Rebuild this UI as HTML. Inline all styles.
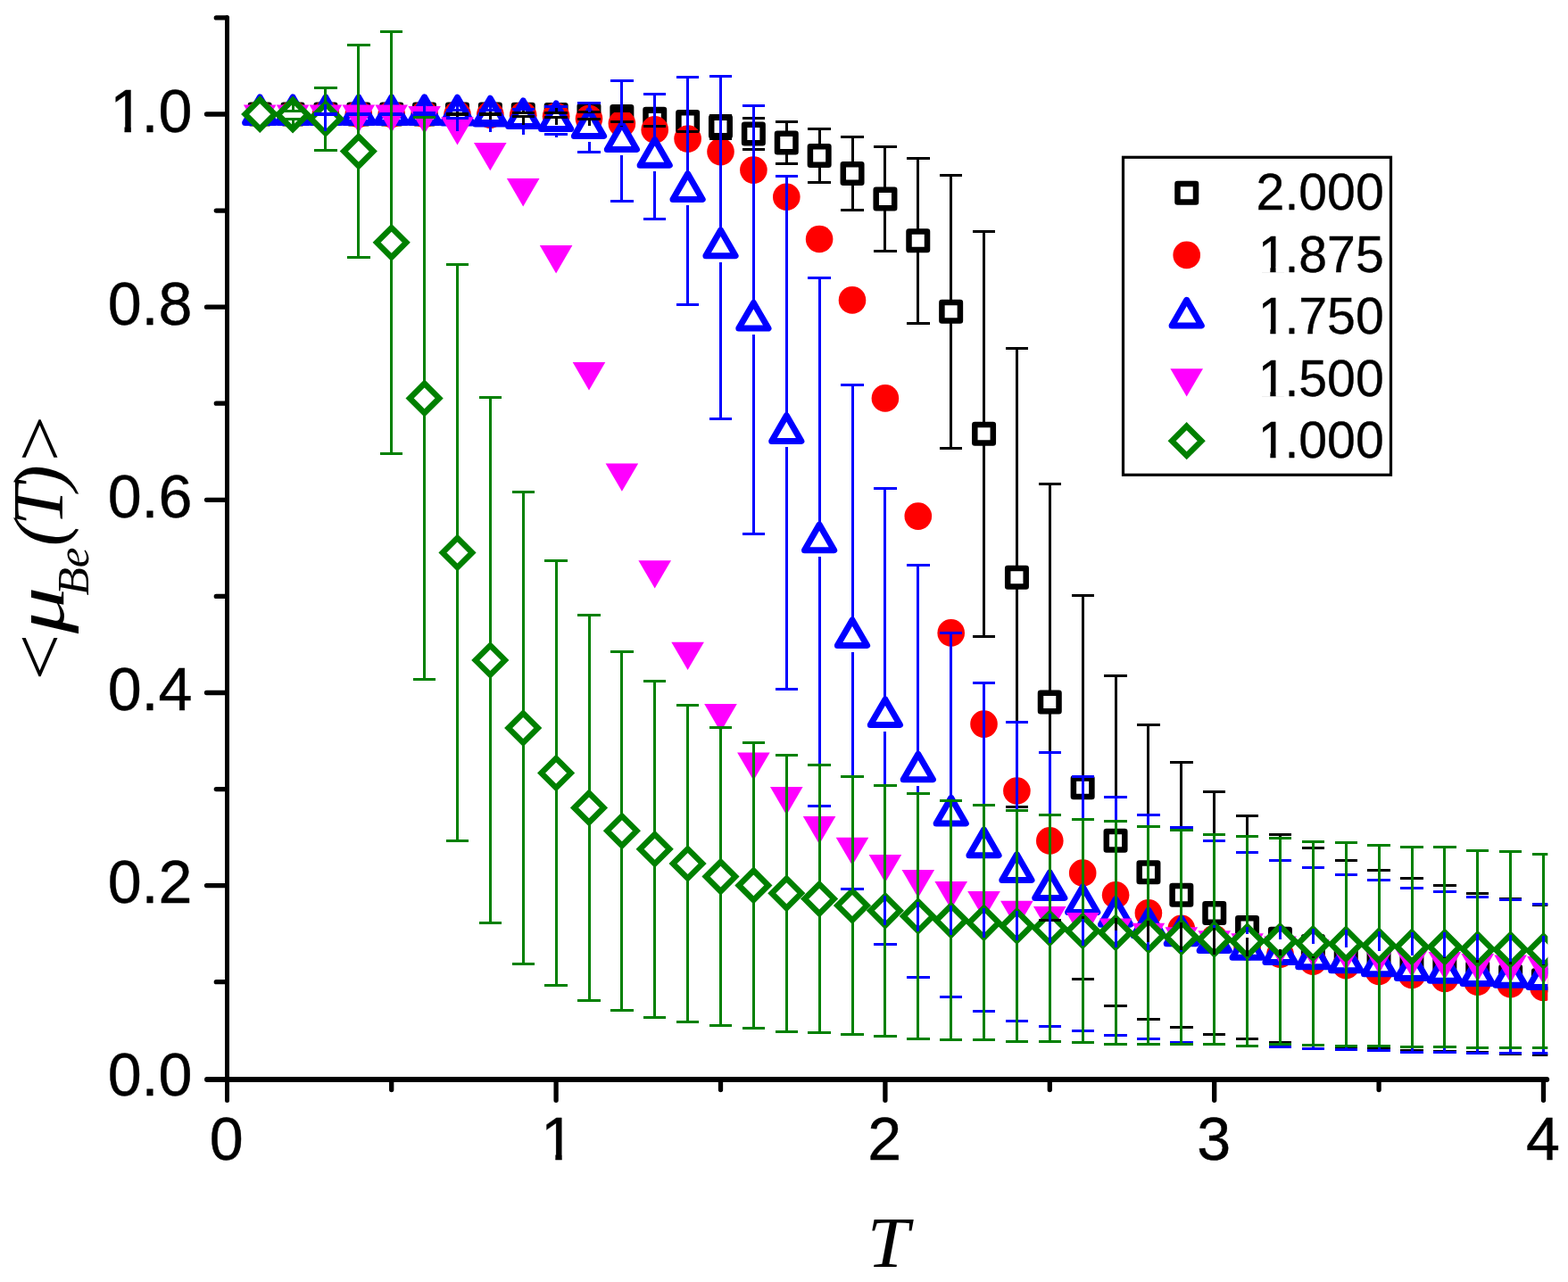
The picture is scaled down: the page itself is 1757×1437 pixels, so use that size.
<!DOCTYPE html>
<html lang="en"><head><meta charset="utf-8"><title>&lt;&#956;Be(T)&gt; versus T</title>
<style>html,body{margin:0;padding:0;background:#fff}body{width:1757px;height:1437px;overflow:hidden}svg{display:block}.tk,.lg{font-family:"Liberation Sans",Arial,Helvetica,sans-serif;fill:#000;stroke:#000;stroke-width:.6px;vector-effect:non-scaling-stroke}.ti{font-family:"Liberation Serif","Times New Roman",Times,serif;font-style:italic;fill:#000}</style></head><body>
<svg width="1757" height="1437" viewBox="0 0 1757 1437">
<rect width="1757" height="1437" fill="#fff"/>
<defs><clipPath id="c1"><path clip-rule="evenodd" d="M-20-100H500V30H-20ZM5-8.6H27.6V2H5ZM38.3-8.6H58V2H38.3Z"/></clipPath><clipPath id="cp"><rect x="250" y="14" width="1484.3" height="1196"/></clipPath></defs>
<g clip-path="url(#cp)">
<g fill="#fff" stroke="#000" stroke-width="6.5" stroke-linejoin="round"><rect x="280.9" y="117.8" width="20.5" height="20.5"/><rect x="317.8" y="117.8" width="20.5" height="20.5"/><rect x="354.7" y="117.8" width="20.5" height="20.5"/><rect x="391.6" y="117.8" width="20.5" height="20.5"/><rect x="428.5" y="117.8" width="20.5" height="20.5"/><rect x="465.3" y="117.8" width="20.5" height="20.5"/><rect x="502.2" y="117.8" width="20.5" height="20.5"/><rect x="539.1" y="117.8" width="20.5" height="20.5"/><rect x="576" y="118.1" width="20.5" height="20.5"/><rect x="612.9" y="118.3" width="20.5" height="20.5"/><rect x="649.7" y="118.9" width="20.5" height="20.5"/><rect x="686.6" y="120.2" width="20.5" height="20.5"/><rect x="723.5" y="123.1" width="20.5" height="20.5"/><rect x="760.4" y="126.2" width="20.5" height="20.5"/><rect x="797.2" y="131.8" width="20.5" height="20.5"/><rect x="834.1" y="139.8" width="20.5" height="20.5"/><rect x="871" y="149.8" width="20.5" height="20.5"/><rect x="907.9" y="164.2" width="20.5" height="20.5"/><rect x="944.8" y="184.2" width="20.5" height="20.5"/><rect x="981.7" y="212.8" width="20.5" height="20.5"/><rect x="1018.5" y="259.6" width="20.5" height="20.5"/><rect x="1055.4" y="338.9" width="20.5" height="20.5"/><rect x="1092.3" y="476.1" width="20.5" height="20.5"/><rect x="1129.2" y="637.1" width="20.5" height="20.5"/><rect x="1166" y="776.8" width="20.5" height="20.5"/><rect x="1202.9" y="872.4" width="20.5" height="20.5"/><rect x="1239.8" y="932.1" width="20.5" height="20.5"/><rect x="1276.7" y="967.4" width="20.5" height="20.5"/><rect x="1313.6" y="993" width="20.5" height="20.5"/><rect x="1350.5" y="1013.2" width="20.5" height="20.5"/><rect x="1387.3" y="1029.2" width="20.5" height="20.5"/><rect x="1424.2" y="1042" width="20.5" height="20.5"/><rect x="1461.1" y="1050.3" width="20.5" height="20.5"/><rect x="1498" y="1059" width="20.5" height="20.5"/><rect x="1534.8" y="1065.3" width="20.5" height="20.5"/><rect x="1571.7" y="1070.8" width="20.5" height="20.5"/><rect x="1608.6" y="1075.2" width="20.5" height="20.5"/><rect x="1645.5" y="1080.2" width="20.5" height="20.5"/><rect x="1682.4" y="1084.2" width="20.5" height="20.5"/><rect x="1719.2" y="1088.5" width="20.5" height="20.5"/></g>
<g fill="#f00"><circle cx="291.2" cy="128" r="15.3"/><circle cx="328.1" cy="128" r="15.3"/><circle cx="364.9" cy="128" r="15.3"/><circle cx="401.8" cy="128" r="15.3"/><circle cx="438.7" cy="128" r="15.3"/><circle cx="475.6" cy="128" r="15.3"/><circle cx="512.5" cy="128.2" r="15.3"/><circle cx="549.3" cy="128.6" r="15.3"/><circle cx="586.2" cy="129.3" r="15.3"/><circle cx="623.1" cy="130.3" r="15.3"/><circle cx="660" cy="133" r="15.3"/><circle cx="696.9" cy="138.5" r="15.3"/><circle cx="733.7" cy="145.4" r="15.3"/><circle cx="770.6" cy="155.6" r="15.3"/><circle cx="807.5" cy="170.1" r="15.3"/><circle cx="844.4" cy="190.6" r="15.3"/><circle cx="881.3" cy="220.8" r="15.3"/><circle cx="918.1" cy="268" r="15.3"/><circle cx="955" cy="336.4" r="15.3"/><circle cx="991.9" cy="446.4" r="15.3"/><circle cx="1028.8" cy="578.6" r="15.3"/><circle cx="1065.7" cy="709.4" r="15.3"/><circle cx="1102.5" cy="811.6" r="15.3"/><circle cx="1139.4" cy="886.5" r="15.3"/><circle cx="1176.3" cy="942.4" r="15.3"/><circle cx="1213.2" cy="978.5" r="15.3"/><circle cx="1250.1" cy="1003.2" r="15.3"/><circle cx="1286.9" cy="1023.4" r="15.3"/><circle cx="1323.8" cy="1040.9" r="15.3"/><circle cx="1360.7" cy="1052" r="15.3"/><circle cx="1397.6" cy="1061.5" r="15.3"/><circle cx="1434.5" cy="1069.6" r="15.3"/><circle cx="1471.3" cy="1077.8" r="15.3"/><circle cx="1508.2" cy="1082.2" r="15.3"/><circle cx="1545.1" cy="1089" r="15.3"/><circle cx="1582" cy="1092.9" r="15.3"/><circle cx="1618.9" cy="1097" r="15.3"/><circle cx="1655.7" cy="1100.8" r="15.3"/><circle cx="1692.6" cy="1103.3" r="15.3"/><circle cx="1729.5" cy="1107" r="15.3"/></g>
<g fill="#fff" stroke="#00f" stroke-width="7" stroke-linejoin="round"><path d="M291.2 108.9L307.8 137.6H274.6Z"/><path d="M328.1 108.9L344.7 137.6H311.5Z"/><path d="M364.9 108.9L381.5 137.6H348.3Z"/><path d="M401.8 108.9L418.4 137.6H385.2Z"/><path d="M438.7 108.9L455.3 137.6H422.1Z"/><path d="M475.6 108.8L492.2 137.5H459Z"/><path d="M512.5 109.2L529.1 137.9H495.9Z"/><path d="M549.3 110.2L565.9 138.9H532.7Z"/><path d="M586.2 112.9L602.8 141.6H569.6Z"/><path d="M623.1 115.9L639.7 144.6H606.5Z"/><path d="M660 123.8L676.6 152.5H643.4Z"/><path d="M696.9 138.8L713.5 167.5H680.3Z"/><path d="M733.7 156.5L750.3 185.2H717.1Z"/><path d="M770.6 194.7L787.2 223.4H754Z"/><path d="M807.5 258.1L824.1 286.8H790.9Z"/><path d="M844.4 339.4L861 368.1H827.8Z"/><path d="M881.3 465.7L897.9 494.4H864.7Z"/><path d="M918.1 588.1L934.7 616.8H901.5Z"/><path d="M955 694.9L971.6 723.5H938.4Z"/><path d="M991.9 783.9L1008.5 812.5H975.3Z"/><path d="M1028.8 845.2L1045.4 873.8H1012.2Z"/><path d="M1065.7 894.3L1082.3 922.9H1049.1Z"/><path d="M1102.5 930.1L1119.1 958.8H1085.9Z"/><path d="M1139.4 957.8L1156 986.4H1122.8Z"/><path d="M1176.3 977.9L1192.9 1006.5H1159.7Z"/><path d="M1213.2 994L1229.8 1022.6H1196.6Z"/><path d="M1250.1 1007.7L1266.7 1036.3H1233.5Z"/><path d="M1286.9 1020.1L1303.5 1048.8H1270.3Z"/><path d="M1323.8 1029.1L1340.4 1057.8H1307.2Z"/><path d="M1360.7 1036.9L1377.3 1065.5H1344.1Z"/><path d="M1397.6 1044.7L1414.2 1073.3H1381Z"/><path d="M1434.5 1050L1451.1 1078.6H1417.9Z"/><path d="M1471.3 1055.1L1487.9 1083.8H1454.7Z"/><path d="M1508.2 1059.2L1524.8 1087.8H1491.6Z"/><path d="M1545.1 1063.1L1561.7 1091.8H1528.5Z"/><path d="M1582 1067.9L1598.6 1096.5H1565.4Z"/><path d="M1618.9 1070.6L1635.5 1099.2H1602.3Z"/><path d="M1655.7 1073.8L1672.3 1102.5H1639.1Z"/><path d="M1692.6 1075.7L1709.2 1104.3H1676Z"/><path d="M1729.5 1077.9L1746.1 1106.5H1712.9Z"/></g>
<g fill="#f0f"><path d="M272.9 117.6H309.5L291.2 148.9Z"/><path d="M309.8 117.6H346.4L328.1 148.9Z"/><path d="M346.6 117.6H383.2L364.9 148.9Z"/><path d="M383.5 117.6H420.1L401.8 148.9Z"/><path d="M420.4 117.6H457L438.7 148.9Z"/><path d="M457.3 118.9H493.9L475.6 150.2Z"/><path d="M494.2 131.2H530.8L512.5 162.5Z"/><path d="M531 160H567.6L549.3 191.3Z"/><path d="M567.9 200.1H604.5L586.2 231.4Z"/><path d="M604.8 275.1H641.4L623.1 306.4Z"/><path d="M641.7 406.1H678.3L660 437.4Z"/><path d="M678.6 519.4H715.2L696.9 550.7Z"/><path d="M715.4 628.2H752L733.7 659.5Z"/><path d="M752.3 719.7H788.9L770.6 751Z"/><path d="M789.2 789.1H825.8L807.5 820.4Z"/><path d="M826.1 843.4H862.7L844.4 874.7Z"/><path d="M863 882.1H899.6L881.3 913.4Z"/><path d="M899.8 915H936.4L918.1 946.3Z"/><path d="M936.7 938.8H973.3L955 970.1Z"/><path d="M973.6 958H1010.2L991.9 989.3Z"/><path d="M1010.5 975H1047.1L1028.8 1006.3Z"/><path d="M1047.4 987.9H1084L1065.7 1019.2Z"/><path d="M1084.2 998.9H1120.8L1102.5 1030.2Z"/><path d="M1121.1 1009.8H1157.7L1139.4 1041.1Z"/><path d="M1158 1016.1H1194.6L1176.3 1047.4Z"/><path d="M1194.9 1023.1H1231.5L1213.2 1054.4Z"/><path d="M1231.8 1029.6H1268.4L1250.1 1060.9Z"/><path d="M1268.6 1034.8H1305.2L1286.9 1066.1Z"/><path d="M1305.5 1039.3H1342.1L1323.8 1070.6Z"/><path d="M1342.4 1043.3H1379L1360.7 1074.6Z"/><path d="M1379.3 1046.3H1415.9L1397.6 1077.6Z"/><path d="M1416.2 1049.5H1452.8L1434.5 1080.8Z"/><path d="M1453 1053H1489.6L1471.3 1084.3Z"/><path d="M1489.9 1056.6H1526.5L1508.2 1087.9Z"/><path d="M1526.8 1060.1H1563.4L1545.1 1091.4Z"/><path d="M1563.7 1063.9H1600.3L1582 1095.2Z"/><path d="M1600.6 1066.9H1637.2L1618.9 1098.2Z"/><path d="M1637.4 1069.1H1674L1655.7 1100.4Z"/><path d="M1674.3 1070.6H1710.9L1692.6 1101.9Z"/><path d="M1711.2 1072.1H1747.8L1729.5 1103.4Z"/></g>
<g fill="#fff" stroke="#008000" stroke-width="6.5" stroke-linejoin="miter"><path d="M291.2 111.5L307.7 128L291.2 144.5L274.7 128Z"/><path d="M328.1 112L344.6 128.5L328.1 145L311.6 128.5Z"/><path d="M364.9 116.5L381.4 133L364.9 149.5L348.4 133Z"/><path d="M401.8 153.1L418.3 169.6L401.8 186.1L385.3 169.6Z"/><path d="M438.7 255.3L455.2 271.8L438.7 288.3L422.2 271.8Z"/><path d="M475.6 429.9L492.1 446.4L475.6 462.9L459.1 446.4Z"/><path d="M512.5 603L529 619.5L512.5 636L496 619.5Z"/><path d="M549.3 723.5L565.8 740L549.3 756.5L532.8 740Z"/><path d="M586.2 799.5L602.7 816L586.2 832.5L569.7 816Z"/><path d="M623.1 850L639.6 866.5L623.1 883L606.6 866.5Z"/><path d="M660 888.9L676.5 905.4L660 921.9L643.5 905.4Z"/><path d="M696.9 914.8L713.4 931.3L696.9 947.8L680.4 931.3Z"/><path d="M733.7 935.2L750.2 951.7L733.7 968.2L717.2 951.7Z"/><path d="M770.6 951.5L787.1 968L770.6 984.5L754.1 968Z"/><path d="M807.5 966.1L824 982.6L807.5 999.1L791 982.6Z"/><path d="M844.4 975.9L860.9 992.4L844.4 1008.9L827.9 992.4Z"/><path d="M881.3 984.8L897.8 1001.3L881.3 1017.8L864.8 1001.3Z"/><path d="M918.1 991.1L934.6 1007.6L918.1 1024.1L901.6 1007.6Z"/><path d="M955 998.5L971.5 1015L955 1031.5L938.5 1015Z"/><path d="M991.9 1004.3L1008.4 1020.8L991.9 1037.3L975.4 1020.8Z"/><path d="M1028.8 1010.5L1045.3 1027L1028.8 1043.5L1012.3 1027Z"/><path d="M1065.7 1015.1L1082.2 1031.6L1065.7 1048.1L1049.2 1031.6Z"/><path d="M1102.5 1017.8L1119 1034.3L1102.5 1050.8L1086 1034.3Z"/><path d="M1139.4 1021.4L1155.9 1037.9L1139.4 1054.4L1122.9 1037.9Z"/><path d="M1176.3 1024L1192.8 1040.5L1176.3 1057L1159.8 1040.5Z"/><path d="M1213.2 1027L1229.7 1043.5L1213.2 1060L1196.7 1043.5Z"/><path d="M1250.1 1028.9L1266.6 1045.4L1250.1 1061.9L1233.6 1045.4Z"/><path d="M1286.9 1031.8L1303.4 1048.3L1286.9 1064.8L1270.4 1048.3Z"/><path d="M1323.8 1034L1340.3 1050.5L1323.8 1067L1307.3 1050.5Z"/><path d="M1360.7 1036.5L1377.2 1053L1360.7 1069.5L1344.2 1053Z"/><path d="M1397.6 1038.5L1414.1 1055L1397.6 1071.5L1381.1 1055Z"/><path d="M1434.5 1038.2L1451 1054.7L1434.5 1071.2L1418 1054.7Z"/><path d="M1471.3 1041L1487.8 1057.5L1471.3 1074L1454.8 1057.5Z"/><path d="M1508.2 1041.8L1524.7 1058.3L1508.2 1074.8L1491.7 1058.3Z"/><path d="M1545.1 1043.6L1561.6 1060.1L1545.1 1076.6L1528.6 1060.1Z"/><path d="M1582 1044.9L1598.5 1061.4L1582 1077.9L1565.5 1061.4Z"/><path d="M1618.9 1045.1L1635.4 1061.6L1618.9 1078.1L1602.4 1061.6Z"/><path d="M1655.7 1047.4L1672.2 1063.9L1655.7 1080.4L1639.2 1063.9Z"/><path d="M1692.6 1047.9L1709.1 1064.4L1692.6 1080.9L1676.1 1064.4Z"/><path d="M1729.5 1049.3L1746 1065.8L1729.5 1082.3L1713 1065.8Z"/></g>
<g fill="none" stroke-width="3" shape-rendering="crispEdges">
<path stroke="#000" d="M499.8 127.8H525.2M499.8 128.2H525.2M512.5 127.8V116.5M512.5 128.2V139.5M536.6 127.7H562M536.6 128.5H562M549.3 127.7V116.6M549.3 128.5V139.6M573.5 126.2H598.9M573.5 130.4H598.9M586.2 126.2V116.8M586.2 130.4V139.8M610.4 126.1H635.8M610.4 131.1H635.8M623.1 126.1V117.1M623.1 131.1V140.1M647.3 125.2H672.7M647.3 133.2H672.7M660 125.2V117.7M660 133.2V140.7M684.2 124.8H709.6M684.2 136H709.6M696.9 124.8V118.9M696.9 136V141.9M721 125.5H746.4M721 141.1H746.4M733.7 125.5V121.8M733.7 141.1V144.8M757.9 125.4H783.3M757.9 147.4H783.3M770.6 125.4V124.9M770.6 147.4V147.9M794.8 129H820.2M794.8 155H820.2M807.5 129V130.5M807.5 155V153.5M831.7 132.6H857.1M831.7 167.6H857.1M844.4 132.6V138.6M844.4 167.6V161.6M868.6 136.5H894M868.6 183.5H894M881.3 136.5V148.5M881.3 183.5V171.5M905.4 144.4H930.8M905.4 204.6H930.8M918.1 144.4V163M918.1 204.6V186M942.3 153.4H967.7M942.3 235.4H967.7M955 153.4V182.9M955 235.4V205.9M979.2 164.3H1004.6M979.2 281.7H1004.6M991.9 164.3V211.5M991.9 281.7V234.5M1016.1 177.3H1041.5M1016.1 362.5H1041.5M1028.8 177.3V258.4M1028.8 362.5V281.4M1053 196H1078.4M1053 502.4H1078.4M1065.7 196V337.7M1065.7 502.4V360.7M1089.8 259.2H1115.2M1089.8 713.4H1115.2M1102.5 259.2V474.8M1102.5 713.4V497.8M1126.7 390.4H1152.1M1126.7 904.4H1152.1M1139.4 390.4V635.9M1139.4 904.4V658.9M1163.6 542.3H1189M1163.6 1031.7H1189M1176.3 542.3V775.5M1176.3 1031.7V798.5M1200.5 667.3H1225.9M1200.5 1097.9H1225.9M1213.2 667.3V871.1M1213.2 1097.9V894.1M1237.4 757.4H1262.8M1237.4 1127.4H1262.8M1250.1 757.4V930.9M1250.1 1127.4V953.9M1274.2 812.6H1299.6M1274.2 1142.6H1299.6M1286.9 812.6V966.1M1286.9 1142.6V989.1M1311.1 854.6H1336.5M1311.1 1151.8H1336.5M1323.8 854.6V991.7M1323.8 1151.8V1014.7M1348 887.5H1373.4M1348 1159.5H1373.4M1360.7 887.5V1012M1360.7 1159.5V1035M1384.9 914.7H1410.3M1384.9 1164.1H1410.3M1397.6 914.7V1027.9M1397.6 1164.1V1050.9M1421.8 935.6H1447.2M1421.8 1168.8H1447.2M1434.5 935.6V1040.7M1434.5 1168.8V1063.7M1458.6 950.2H1484M1458.6 1171H1484M1471.3 950.2V1049.1M1471.3 1171V1072.1M1495.5 964.6H1520.9M1495.5 1173.8H1520.9M1508.2 964.6V1057.7M1508.2 1173.8V1080.7M1532.4 975.4H1557.8M1532.4 1175.8H1557.8M1545.1 975.4V1064.1M1545.1 1175.8V1087.1M1569.3 984.5H1594.7M1569.3 1177.7H1594.7M1582 984.5V1069.6M1582 1177.7V1092.6M1606.2 992.2H1631.6M1606.2 1178.8H1631.6M1618.9 992.2V1074M1618.9 1178.8V1097M1643 1001.5H1668.4M1643 1179.5H1668.4M1655.7 1001.5V1079M1655.7 1179.5V1102M1679.9 1007.7H1705.3M1679.9 1181.1H1705.3M1692.6 1007.7V1082.9M1692.6 1181.1V1105.9M1716.8 1014.5H1742.2M1716.8 1182.9H1742.2M1729.5 1014.5V1087.2M1729.5 1182.9V1110.2"/>
<path stroke="#00f" d="M352.2 127.7H377.6M352.2 128.3H377.6M364.9 127.7V109M364.9 128.3V147M389.1 127.7H414.5M389.1 128.3H414.5M401.8 127.7V109M401.8 128.3V147M426 127.5H451.4M426 128.5H451.4M438.7 127.5V109M438.7 128.5V147M462.9 126.7H488.3M462.9 129.1H488.3M475.6 126.7V108.9M475.6 129.1V146.9M499.8 123.8H525.2M499.8 132.8H525.2M512.5 123.8V109.3M512.5 132.8V147.3M536.6 123.4H562M536.6 135.2H562M549.3 123.4V110.3M549.3 135.2V148.3M573.5 122H598.9M573.5 142H598.9M586.2 122V113M586.2 142V151M610.4 119.8H635.8M610.4 150.2H635.8M623.1 119.8V116M623.1 150.2V154M647.3 115.1H672.7M647.3 170.7H672.7M660 115.1V126.4M660 170.7V159.4M684.2 90.7H709.6M684.2 225.1H709.6M696.9 90.7V141.4M696.9 225.1V174.4M721 105.6H746.4M721 245.6H746.4M733.7 105.6V159.1M733.7 245.6V192.1M757.9 86.3H783.3M757.9 341.3H783.3M770.6 86.3V197.3M770.6 341.3V230.3M794.8 85.2H820.2M794.8 469.2H820.2M807.5 85.2V260.7M807.5 469.2V293.7M831.7 118.3H857.1M831.7 598.7H857.1M844.4 118.3V342M844.4 598.7V375M868.6 197.2H894M868.6 772.4H894M881.3 197.2V468.3M881.3 772.4V501.3M905.4 311.1H930.8M905.4 903.3H930.8M918.1 311.1V590.7M918.1 903.3V623.7M942.3 431.2H967.7M942.3 996.8H967.7M955 431.2V697.5M955 996.8V730.5M979.2 547.6H1004.6M979.2 1058.4H1004.6M991.9 547.6V786.5M991.9 1058.4V819.5M1016.1 633.5H1041.5M1016.1 1095.1H1041.5M1028.8 633.5V847.8M1028.8 1095.1V880.8M1053 709.4H1078.4M1053 1117.4H1078.4M1065.7 709.4V896.9M1065.7 1117.4V929.9M1089.8 765.3H1115.2M1089.8 1133.1H1115.2M1102.5 765.3V932.7M1102.5 1133.1V965.7M1126.7 809.6H1152.1M1126.7 1144.2H1152.1M1139.4 809.6V960.4M1139.4 1144.2V993.4M1163.6 843.4H1189M1163.6 1150.6H1189M1176.3 843.4V980.5M1176.3 1150.6V1013.5M1200.5 870.3H1225.9M1200.5 1155.9H1225.9M1213.2 870.3V996.6M1213.2 1155.9V1029.6M1237.4 893.2H1262.8M1237.4 1160.4H1262.8M1250.1 893.2V1010.3M1250.1 1160.4V1043.3M1274.2 913.8H1299.6M1274.2 1164.6H1299.6M1286.9 913.8V1022.7M1286.9 1164.6V1055.7M1311.1 927.8H1336.5M1311.1 1168.6H1336.5M1323.8 927.8V1031.7M1323.8 1168.6V1064.7M1348 942H1373.4M1348 1170H1373.4M1360.7 942V1039.5M1360.7 1170V1072.5M1384.9 955.6H1410.3M1384.9 1172H1410.3M1397.6 955.6V1047.3M1397.6 1172V1080.3M1421.8 964.7H1447.2M1421.8 1173.5H1447.2M1434.5 964.7V1052.6M1434.5 1173.5V1085.6M1458.6 972.6H1484M1458.6 1175.8H1484M1471.3 972.6V1057.7M1471.3 1175.8V1090.7M1495.5 980.3H1520.9M1495.5 1176.3H1520.9M1508.2 980.3V1061.8M1508.2 1176.3V1094.8M1532.4 986.7H1557.8M1532.4 1177.7H1557.8M1545.1 986.7V1065.7M1545.1 1177.7V1098.7M1569.3 995H1594.7M1569.3 1179H1594.7M1582 995V1070.5M1582 1179V1103.5M1606.2 999.7H1631.6M1606.2 1179.7H1631.6M1618.9 999.7V1073.2M1618.9 1179.7V1106.2M1643 1005.4H1668.4M1643 1180.4H1668.4M1655.7 1005.4V1076.4M1655.7 1180.4V1109.4M1679.9 1008.8H1705.3M1679.9 1180.8H1705.3M1692.6 1008.8V1078.3M1692.6 1180.8V1111.3M1716.8 1013.2H1742.2M1716.8 1180.8H1742.2M1729.5 1013.2V1080.5M1729.5 1180.8V1113.5"/>
<path stroke="#008000" d="M315.4 124H340.8M315.4 133H340.8M328.1 124V112M328.1 133V145M352.2 98H377.6M352.2 168H377.6M364.9 98V116.5M364.9 168V149.5M389.1 50.6H414.5M389.1 288.6H414.5M401.8 50.6V153.1M401.8 288.6V186.1M426 35.3H451.4M426 508.3H451.4M438.7 35.3V255.3M438.7 508.3V288.3M462.9 131.2H488.3M462.9 761.6H488.3M475.6 131.2V429.9M475.6 761.6V462.9M499.8 296.2H525.2M499.8 942.8H525.2M512.5 296.2V603M512.5 942.8V636M536.6 445.5H562M536.6 1034.5H562M549.3 445.5V723.5M549.3 1034.5V756.5M573.5 551.6H598.9M573.5 1080.4H598.9M586.2 551.6V799.5M586.2 1080.4V832.5M610.4 628.6H635.8M610.4 1104.4H635.8M623.1 628.6V850M623.1 1104.4V883M647.3 689.4H672.7M647.3 1121.4H672.7M660 689.4V888.9M660 1121.4V921.9M684.2 730.6H709.6M684.2 1132H709.6M696.9 730.6V914.8M696.9 1132V947.8M721 763H746.4M721 1140.4H746.4M733.7 763V935.2M733.7 1140.4V968.2M757.9 790.4H783.3M757.9 1145.6H783.3M770.6 790.4V951.5M770.6 1145.6V984.5M794.8 815.4H820.2M794.8 1149.8H820.2M807.5 815.4V966.1M807.5 1149.8V999.1M831.7 832.4H857.1M831.7 1152.4H857.1M844.4 832.4V975.9M844.4 1152.4V1008.9M868.6 846.3H894M868.6 1156.3H894M881.3 846.3V984.8M881.3 1156.3V1017.8M905.4 857.6H930.8M905.4 1157.6H930.8M918.1 857.6V991.1M918.1 1157.6V1024.1M942.3 870.5H967.7M942.3 1159.5H967.7M955 870.5V998.5M955 1159.5V1031.5M979.2 880.3H1004.6M979.2 1161.3H1004.6M991.9 880.3V1004.3M991.9 1161.3V1037.3M1016.1 889.6H1041.5M1016.1 1164.4H1041.5M1028.8 889.6V1010.5M1028.8 1164.4V1043.5M1053 897.6H1078.4M1053 1165.6H1078.4M1065.7 897.6V1015.1M1065.7 1165.6V1048.1M1089.8 902.8H1115.2M1089.8 1165.8H1115.2M1102.5 902.8V1017.8M1102.5 1165.8V1050.8M1126.7 908.4H1152.1M1126.7 1167.4H1152.1M1139.4 908.4V1021.4M1139.4 1167.4V1054.4M1163.6 913.6H1189M1163.6 1167.4H1189M1176.3 913.6V1024M1176.3 1167.4V1057M1200.5 918.4H1225.9M1200.5 1168.6H1225.9M1213.2 918.4V1027M1213.2 1168.6V1060M1237.4 920.5H1262.8M1237.4 1170.3H1262.8M1250.1 920.5V1028.9M1250.1 1170.3V1061.9M1274.2 926.3H1299.6M1274.2 1170.3H1299.6M1286.9 926.3V1031.8M1286.9 1170.3V1064.8M1311.1 930.6H1336.5M1311.1 1170.4H1336.5M1323.8 930.6V1034M1323.8 1170.4V1067M1348 935.5H1373.4M1348 1170.5H1373.4M1360.7 935.5V1036.5M1360.7 1170.5V1069.5M1384.9 937.5H1410.3M1384.9 1172.5H1410.3M1397.6 937.5V1038.5M1397.6 1172.5V1071.5M1421.8 939.4H1447.2M1421.8 1170H1447.2M1434.5 939.4V1038.2M1434.5 1170V1071.2M1458.6 943.5H1484M1458.6 1171.5H1484M1471.3 943.5V1041M1471.3 1171.5V1074M1495.5 944.3H1520.9M1495.5 1172.3H1520.9M1508.2 944.3V1041.8M1508.2 1172.3V1074.8M1532.4 947.3H1557.8M1532.4 1172.9H1557.8M1545.1 947.3V1043.6M1545.1 1172.9V1076.6M1569.3 949.4H1594.7M1569.3 1173.4H1594.7M1582 949.4V1044.9M1582 1173.4V1077.9M1606.2 949.4H1631.6M1606.2 1173.8H1631.6M1618.9 949.4V1045.1M1618.9 1173.8V1078.1M1643 953.6H1668.4M1643 1174.2H1668.4M1655.7 953.6V1047.4M1655.7 1174.2V1080.4M1679.9 954.6H1705.3M1679.9 1174.2H1705.3M1692.6 954.6V1047.9M1692.6 1174.2V1080.9M1716.8 957.4H1742.2M1716.8 1174.2H1742.2M1729.5 957.4V1049.3M1729.5 1174.2V1082.3"/>
</g></g>
<g stroke="#000" fill="none" stroke-linecap="butt">
<path stroke-width="5" stroke-linecap="round" d="M254.5 19.5V1233.4"/>
<path stroke-width="6" stroke-linecap="round" d="M232 1210H1733.2"/>
<path stroke-width="5.3" stroke-linecap="round" d="M231.5 128H253M231.5 344.2H253M231.5 560.3H253M231.5 776.5H253M231.5 992.6H253M242.3 19.9H253M242.3 236.1H253M242.3 452.2H253M242.3 668.4H253M242.3 884.6H253M242.3 1100.7H253M623.1 1212V1233.3M991.9 1212V1233.3M1360.7 1212V1233.3M1729.5 1212V1233.3M438.7 1212V1221.6M807.5 1212V1221.6M1176.3 1212V1221.6M1545.1 1212V1221.6"/>
</g>
<g class="tk">
<text transform="translate(120.70 147.60) scale(0.682 0.692)" font-size="100" clip-path="url(#c1)"><tspan x="3.6">1</tspan><tspan x="55.6">.0</tspan></text>
<text transform="translate(120.70 363.76) scale(0.682 0.692)" font-size="100" text-anchor="start">0.8</text>
<text transform="translate(120.70 579.92) scale(0.682 0.692)" font-size="100" text-anchor="start">0.6</text>
<text transform="translate(120.70 796.08) scale(0.682 0.692)" font-size="100" text-anchor="start">0.4</text>
<text transform="translate(120.70 1012.24) scale(0.682 0.692)" font-size="100" text-anchor="start">0.2</text>
<text transform="translate(120.70 1228.40) scale(0.682 0.692)" font-size="100" text-anchor="start">0.0</text>
<text transform="translate(234.74 1300.00) scale(0.682 0.692)" font-size="100" text-anchor="start">0</text>
<text transform="translate(603.54 1300.00) scale(0.682 0.692)" font-size="100" clip-path="url(#c1)"><tspan x="3.6">1</tspan></text>
<text transform="translate(972.34 1300.00) scale(0.682 0.692)" font-size="100" text-anchor="start">2</text>
<text transform="translate(1341.14 1300.00) scale(0.682 0.692)" font-size="100" text-anchor="start">3</text>
<text transform="translate(1709.94 1300.00) scale(0.682 0.692)" font-size="100" text-anchor="start">4</text>
</g>
<g class="ti">
<text transform="translate(971.70 1420.00) scale(0.846 0.803)" font-size="100" text-anchor="start">T</text>
<g transform="rotate(-90)">
<text transform="translate(-762.73 72.20) scale(0.9255 0.8187)" font-size="100" text-anchor="start" font-style="normal">&lt;</text>
<text transform="translate(-710.20 71.12) scale(1.0447 0.7896)" font-size="100" text-anchor="start">&#956;</text>
<text transform="translate(-667.51 98.50) scale(0.5118 0.503)" font-size="100" text-anchor="start">Be</text>
<text transform="translate(-612.21 71.20) scale(0.8361 0.8)" font-size="100" text-anchor="start">(</text>
<text transform="translate(-589.07 70.40) scale(0.8446 0.803)" font-size="100" text-anchor="start">T</text>
<text transform="translate(-549.70 71.20) scale(0.86 0.8)" font-size="100" text-anchor="start">)</text>
<text transform="translate(-517.49 72.20) scale(0.917 0.8187)" font-size="100" text-anchor="start" font-style="normal">&gt;</text>
</g></g>
<rect x="1258.5" y="176.3" width="300" height="356" fill="#fff" stroke="#000" stroke-width="3.2"/>
<g fill="#fff" stroke="#000" stroke-width="6.5" stroke-linejoin="round"><rect x="1319.5" y="206.1" width="20.5" height="20.5"/></g>
<g fill="#f00"><circle cx="1329.7" cy="285.9" r="15.3"/></g>
<g fill="#fff" stroke="#00f" stroke-width="7" stroke-linejoin="round"><path d="M1329.7 336.3L1346.3 364.9H1313.1Z"/></g>
<g fill="#f0f"><path d="M1311.4 413.3H1348L1329.7 444.6Z"/></g>
<g fill="#fff" stroke="#008000" stroke-width="6.5"><path d="M1329.7 477.7L1346.2 494.2L1329.7 510.7L1313.2 494.2Z"/></g>
<g class="lg">
<text transform="translate(1407.60 235.00) scale(0.572 0.58)" font-size="100" text-anchor="start">2.000</text>
<text transform="translate(1407.60 304.50) scale(0.572 0.58)" font-size="100" clip-path="url(#c1)"><tspan x="3.6">1</tspan><tspan x="55.6">.875</tspan></text>
<text transform="translate(1407.60 374.00) scale(0.572 0.58)" font-size="100" clip-path="url(#c1)"><tspan x="3.6">1</tspan><tspan x="55.6">.750</tspan></text>
<text transform="translate(1407.60 443.50) scale(0.572 0.58)" font-size="100" clip-path="url(#c1)"><tspan x="3.6">1</tspan><tspan x="55.6">.500</tspan></text>
<text transform="translate(1407.60 513.00) scale(0.572 0.58)" font-size="100" clip-path="url(#c1)"><tspan x="3.6">1</tspan><tspan x="55.6">.000</tspan></text>
</g>
</svg></body></html>
